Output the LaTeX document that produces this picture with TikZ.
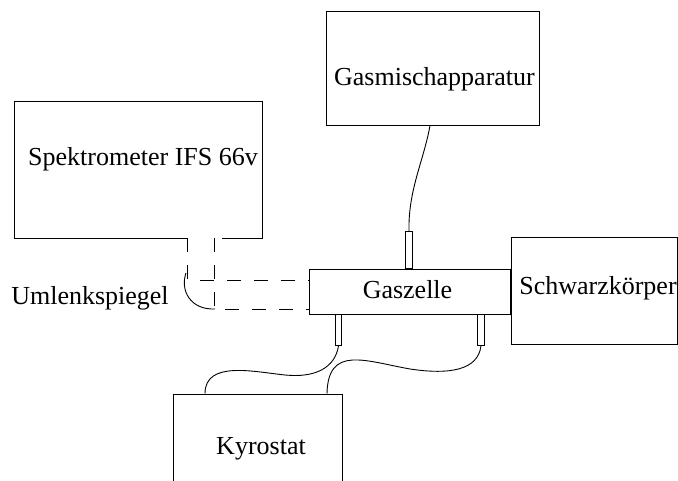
\documentclass[tikz,border=0pt]{standalone}
\usepackage{fontspec}
\setmainfont{Liberation Serif}
\usetikzlibrary{calc}

\begin{document}
\begin{tikzpicture}[x=1pt, y=-1pt, line width=0.9pt,
    box/.style={draw, rectangle, inner sep=0pt},
    tube/.style={draw, rectangle, inner sep=0pt, minimum width=6.5pt},
    lbl/.style={inner sep=0pt, anchor=base, font=\fontsize{26}{30}\selectfont},
    beam/.style={dash pattern=on 14pt off 13pt}]

    % page
    \clip (0,0) rectangle (678,481);

    % the boxes
    \node[box, draw=none, minimum width=247pt, minimum height=136pt] (spek) at (138.5,170) {};
    \node[box, minimum width=213pt, minimum height=114pt] (gasmix) at (432.5,68) {};
    \node[box, minimum width=201pt, minimum height=45pt] (zelle) at (409.5,291.5) {};
    \node[box, minimum width=166pt, minimum height=107pt] (schwarz) at (594,290.5) {};
    \node[box, minimum width=169pt, minimum height=106pt] (kryo) at (257.5,447) {};

    % spectrometer outline, open where the beam leaves
    \draw ($(spek.south west)+(173,0)$) -| (spek.north west) -| (spek.south east) -- ++(-40,0);

    % tubes on the gas cell
    \node[tube, minimum height=37pt, anchor=south] (tubeTop) at (409,269) {};
    \node[tube, minimum height=31pt, anchor=north] (tubeL) at (338.5,314) {};
    \node[tube, minimum height=31pt, anchor=north] (tubeR) at (481,314) {};

    % beam path
    \coordinate (beamA) at ($(spek.south west)+(173,0)$);
    \coordinate (beamB) at ($(spek.south west)+(200,0)$);
    \draw[beam] (beamA) -- (beamA |- 0,280) -- (zelle.west |- 0,280);
    \draw[beam] (beamB) -- (beamB |- 0,309) -- (zelle.west |- 0,309);

    % mirror
    \draw (186,273) .. controls (180,290) and (190,310) .. (215,309);

    % hoses
    \draw (gasmix.south -| 430,0) .. controls (424,160) and (408,190) .. (tubeTop.north);
    \draw (tubeL.south) .. controls (335,368) and (315,378) .. (285,375)
        .. controls (255,372) and (205,360) .. (kryo.north west -| 205,0);
    \draw (tubeR.south) .. controls (478,370) and (450,375) .. (410,369)
        .. controls (365,361) and (328,345) .. (kryo.north west -| 327,0);

    % add text
    \node[lbl] (spekText) at (143,166) {Spektrometer IFS 66v};
    \node[lbl] (gasmixText) at (434.5,86) {Gasmischapparatur};
    \node[lbl] (zelleText) at (407.5,299) {Gaszelle};
    \node[lbl] (schwarzText) at (598,295) {Schwarzkörper};
    \node[lbl] (mirrorText) at (90,305) {Umlenkspiegel};
    \node[lbl] (kryoText) at (261,454) {Kyrostat};

\end{tikzpicture}
\end{document}
